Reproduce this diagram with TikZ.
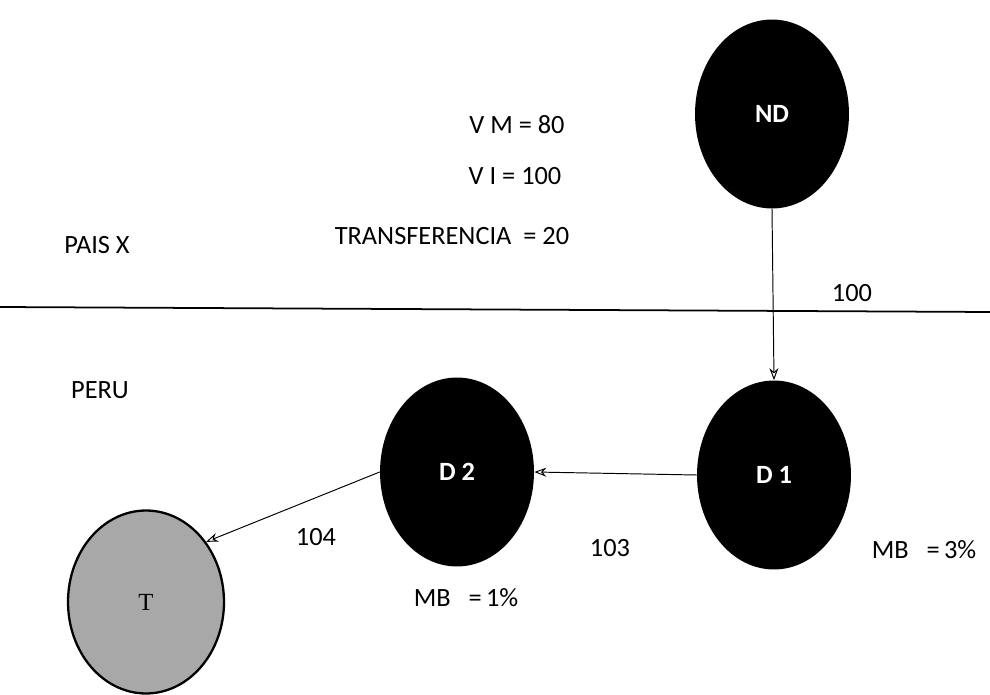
\documentclass[tikz,border=0pt]{standalone}
\usepackage{fontspec}
\setmainfont{Carlito}
\newfontfamily\serifT{Liberation Serif}
\usetikzlibrary{shapes.geometric,arrows.meta}
\definecolor{FigureGray}{HTML}{A8A8A8}

\begin{document}
\begin{tikzpicture}[x=0.02cm,y=-0.02cm,line cap=round,
  blob/.style={ellipse,fill=black,inner sep=0pt,minimum width=3.08cm,minimum height=3.78cm,text=white,font=\bfseries\fontsize{15}{17}\selectfont},
  lbl/.style={font=\fontsize{15}{18}\selectfont},
  link/.style={-{Stealth[length=2.4mm,width=1.8mm,open]},line width=0.55pt}]
  \useasboundingbox (0,0) rectangle (990,695);
  \coordinate (L) at (0,307); \coordinate (R) at (990,312);
  \draw[line width=1pt] (L)--(R);
  \node[blob] (ND) at (772,114) {ND}; \node[blob] (D1) at (774,475) {D 1}; \node[blob] (D2) at (457,472) {D 2};
  \node[ellipse,draw,line width=1.3pt,fill=FigureGray,inner sep=0pt,minimum width=3.12cm,minimum height=3.66cm,font=\serifT\fontsize{14}{16}\selectfont] (T) at (146,602) {T};
  \draw[link] (ND.south)--(D1.north); \draw[link] (D1.west)--(D2.east); \draw[link] (D2.west)--(T.45);
  \node[lbl] (vm) at (517,125) {V M = 80}; \node[lbl] (vi) at (515,176) {V I = 100};
  \node[lbl] (tr) at (452,236) {TRANSFERENCIA\ \ = 20};
  \node[lbl] (pais) at (97,245) {PAIS X}; \node[lbl] (peru) at (100,390) {PERU};
  \node[lbl] (n100) at (852,293) {100}; \node[lbl] (n103) at (610,548) {103}; \node[lbl] (n104) at (316,537) {104};
  \node[lbl] (mb1) at (466,598) {MB\ \ \ =\,1\%}; \node[lbl] (mb3) at (924,550) {MB\ \ \ =\,3\%};
\end{tikzpicture}
\end{document}
